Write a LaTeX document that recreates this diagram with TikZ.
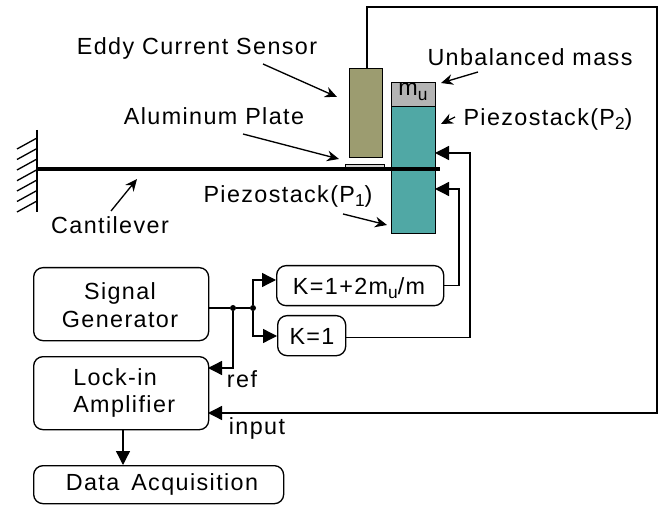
\documentclass[tikz,border=0pt]{standalone}
\usepackage{fontspec}
\setmainfont[LetterSpace=6]{Liberation Sans}
\usetikzlibrary{
  arrows.meta
}
\definecolor{sensorcolor}{HTML}{9C9C70}
\definecolor{masscolor}{HTML}{B4B4B4}
\definecolor{platecolor}{HTML}{D4D4D4}
\definecolor{stackcolor}{HTML}{50A8A5}
\newcommand{\lowidx}[1]{\raisebox{-3.5pt}{\fontsize{13}{14}\selectfont #1}}
\tikzset{
  >={Triangle[length=10.5pt,width=10.5pt]},
  x = 0.75pt,
  y = -0.75pt,
  every node/.style = {font=\fontsize{17.5}{20.5}\selectfont, inner sep=0pt, align=center},
  wire/.style = {draw, line width=1pt, ->},
  plainwire/.style = {draw, line width=1pt},
  pointer/.style = {draw, line width=1pt, -{Stealth[length=9pt,width=8pt]}},
  roundbox/.style = {draw, line width=1pt, rounded corners=7pt, anchor=north west},
  part/.style = {draw, line width=1pt, anchor=north west},
  junction/.style = {circle, fill, minimum size=4.5pt},
}

\begin{document}
\begin{tikzpicture}
  \useasboundingbox (0,0) rectangle (659,505);
  % sensor, plate and stacks
  \node[part, fill=sensorcolor, minimum width=24.75pt, minimum height=66.75pt] (sensor) at (349,68) {};
  \node[part, fill=platecolor, minimum width=29.25pt, minimum height=3pt] (plate) at (345,164) {};
  \node[part, fill=stackcolor, minimum width=33pt, minimum height=95.25pt] (stack) at (391,106) {};
  \node[part, fill=masscolor, minimum width=33pt, minimum height=18pt] (mass) at (391,82) {};
  \node (masstext) at (413,92) {m\lowidx{u}};
  % boxes
  \node[roundbox, minimum width=131.25pt, minimum height=54.75pt] (signal) at (33,267) {};
  \node[roundbox, minimum width=131.25pt, minimum height=54.75pt] (lockin) at (33,356) {};
  \node[roundbox, minimum width=187.5pt, minimum height=28.5pt] (daq) at (33,465) {};
  \node[roundbox, minimum width=125.25pt, minimum height=30pt] (gainb) at (276,265) {};
  \node[roundbox, minimum width=51pt, minimum height=30pt] (gaina) at (277,315) {};
  \node (signaltext) at (120,305) {Signal\\Generator};
  \node[anchor=west, align=left] (lockintext) at (73,393) {Lock-in\\Amplifier};
  \node (daqtext) at (162,484) {Data\hspace{3pt} Acquisition};
  \node (gainbtext) at (359,288) {K=1+2m\lowidx{u}/m};
  \node (gainatext) at (312,336) {K=1};
  % labels
  \node (sensorlabel) at (197,48) {Eddy Current Sensor};
  \node (platelabel) at (214,116) {Aluminum Plate};
  \node (masslabel) at (530,57) {Unbalanced mass};
  \node (stackblabel) at (548,119) {Piezostack(P\lowidx{2})};
  \node (stackalabel) at (288,196) {Piezostack(P\lowidx{1})};
  \node (cantlabel) at (110,225) {Cantilever};
  \node (reflabel) at (242,379) {ref};
  \node (inputlabel) at (257,428) {input};
  % wall
  \coordinate (walltop) at (37,130);
  \coordinate (wallbot) at (37,212);
  \coordinate (canta) at (37,169);
  \coordinate (cantb) at (440,169);
  \draw[line width=1pt] (walltop) -- (wallbot);
  \foreach \y in {138,148.5,159,169.7,180,190.5,201} {
    \draw[line width=1pt] (37,\y) -- (17,\y+11);
  }
  \draw[line width=2.6pt] (canta) -- (cantb);
  % pointers
  \coordinate (sensorfrom) at (263,64);
  \coordinate (sensortip) at (337,97);
  \coordinate (platefrom) at (243,134);
  \coordinate (platetip) at (339,159);
  \coordinate (massfrom) at (478,72);
  \coordinate (masstip) at (441,83);
  \coordinate (stackbfrom) at (455,117);
  \coordinate (stackbtip) at (441,124);
  \coordinate (stackafrom) at (343,214);
  \coordinate (stackatip) at (387,225);
  \coordinate (cantfrom) at (111,211);
  \coordinate (canttip) at (137,179);
  \draw[pointer] (sensorfrom) -- (sensortip);
  \draw[pointer] (platefrom) -- (platetip);
  \draw[pointer] (massfrom) -- (masstip);
  \draw[pointer] (stackbfrom) -- (stackbtip);
  \draw[pointer] (stackafrom) -- (stackatip);
  \draw[pointer] (cantfrom) -- (canttip);
  % wires
  \coordinate (feedtop) at (367,7);
  \coordinate (feedright) at (657,7);
  \coordinate (feedlow) at (657,413);
  \coordinate (stackup) at (435,153);
  \coordinate (stacklow) at (435,189);
  \coordinate (turnup) at (470,153);
  \coordinate (turnlow) at (459,189);
  \coordinate (lockref) at (208,368);
  \coordinate (lockinput) at (208,413);
  \coordinate (gainbin) at (276,280);
  \coordinate (gainain) at (277,336);
  \coordinate (lockout) at (123,429);
  \coordinate (daqin) at (123,465);
  \node[junction] (ja) at (233,308) {};
  \node[junction] (jb) at (253,308) {};
  \draw[plainwire] (signal.east |- ja) -- (ja) -- (jb);
  \draw[wire] (jb) |- (gainbin);
  \draw[wire] (jb) |- (gainain);
  \draw[wire] (ja) |- (lockref);
  \draw[wire] (lockout) -- (daqin);
  \draw[wire] (sensor.north -| feedtop) -- (feedtop) -- (feedright) -- (feedlow) -- (lockinput);
  \draw[wire] (gainb.east) -| (turnlow) -- (stacklow);
  \draw[wire] ([yshift=-1.5pt]gaina.east) -| (turnup) -- (stackup);
\end{tikzpicture}
\end{document}
